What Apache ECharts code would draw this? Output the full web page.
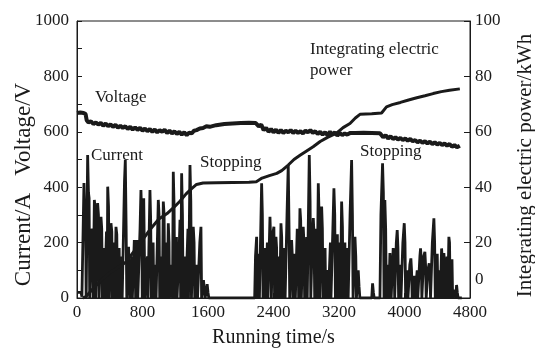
<!DOCTYPE html>
<html>
<head>
<meta charset="utf-8">
<script src="https://cdn.jsdelivr.net/npm/echarts@6/dist/echarts.min.js"></script>
<style>
html,body{margin:0;padding:0;background:#fff;}
#chart{width:535px;height:351px;}
</style>
</head>
<body>
<div id="chart"></div>
<script>
// Running time (s) / value pairs
var voltagePoints = [[0,668],[40,670],[80,668],[105,664],[118,642],[140,634],[170,638],[200,628],[230,634],[260,626],[290,632],[320,622],[350,630],[380,620],[410,627],[440,618],[470,625],[500,615],[530,622],[560,614],[590,620],[620,610],[650,618],[680,608],[710,616],[740,607],[770,614],[800,604],[830,612],[860,602],[890,610],[920,600],[950,608],[980,598],[1010,606],[1040,600],[1070,607],[1100,596],[1130,604],[1160,594],[1190,602],[1220,592],[1250,600],[1280,590],[1310,598],[1340,588],[1370,597],[1400,594],[1430,604],[1460,606],[1500,612],[1540,614],[1580,620],[1620,618],[1700,624],[1800,628],[1900,630],[2000,632],[2100,633],[2180,632],[2220,620],[2250,626],[2280,606],[2310,614],[2340,600],[2370,610],[2400,598],[2430,608],[2460,596],[2490,606],[2520,596],[2550,604],[2580,598],[2610,606],[2640,596],[2670,604],[2700,596],[2730,602],[2760,594],[2790,604],[2820,598],[2850,606],[2880,596],[2910,602],[2940,592],[2970,600],[3000,590],[3030,598],[3060,588],[3090,600],[3120,590],[3150,598],[3180,586],[3210,596],[3240,588],[3270,594],[3300,590],[3340,596],[3400,596],[3500,597],[3600,596],[3700,595],[3740,580],[3770,588],[3800,576],[3830,584],[3860,574],[3890,580],[3920,572],[3950,578],[3980,570],[4010,576],[4040,568],[4070,574],[4100,566],[4130,570],[4160,562],[4190,568],[4220,560],[4250,566],[4280,558],[4310,564],[4340,556],[4370,562],[4400,554],[4430,560],[4460,552],[4490,558],[4520,550],[4550,556],[4580,546],[4610,552],[4640,544],[4676,550]];

var currentPoints = [[0,20],[50,20],[60,5],[75,0],[85,415],[95,300],[105,280],[112,0],[122,0],[130,516],[140,380],[148,360],[155,0],[170,0],[180,250],[190,240],[197,0],[205,0],[212,354],[222,320],[230,0],[240,0],[252,343],[262,300],[270,0],[282,0],[293,293],[302,250],[310,0],[320,0],[330,180],[338,0],[350,0],[360,240],[368,0],[375,402],[385,330],[395,0],[405,0],[415,270],[425,240],[432,0],[445,0],[455,200],[462,0],[470,0],[476,257],[486,230],[494,0],[505,0],[515,180],[522,0],[535,0],[545,150],[552,0],[570,0],[580,420],[590,498],[600,260],[608,0],[620,0],[630,185],[639,185],[645,0],[660,0],[670,150],[676,0],[690,0],[700,209],[710,160],[716,0],[725,0],[733,209],[742,0],[760,0],[770,250],[781,390],[790,300],[797,0],[805,0],[815,360],[822,354],[830,0],[850,0],[860,150],[867,0],[880,0],[891,390],[900,280],[908,0],[920,0],[930,200],[937,0],[950,0],[960,120],[966,0],[980,0],[993,354],[1002,300],[1010,0],[1025,0],[1035,150],[1042,0],[1050,0],[1054,348],[1064,300],[1072,0],[1085,0],[1095,200],[1102,0],[1108,0],[1115,270],[1124,200],[1130,0],[1145,0],[1160,120],[1166,0],[1170,0],[1176,456],[1186,330],[1194,0],[1205,0],[1215,220],[1222,0],[1240,0],[1250,200],[1258,282],[1266,0],[1272,0],[1278,450],[1288,300],[1296,0],[1310,0],[1320,150],[1328,0],[1345,0],[1355,250],[1362,0],[1372,0],[1380,480],[1390,350],[1398,0],[1410,0],[1420,257],[1430,200],[1438,0],[1455,0],[1465,120],[1472,0],[1490,0],[1500,200],[1514,257],[1522,0],[1535,0],[1545,65],[1555,30],[1565,0],[1580,0],[1590,50],[1600,20],[1610,0],[2170,0],[2180,150],[2194,221],[2202,0],[2210,0],[2220,160],[2228,0],[2245,0],[2255,414],[2264,300],[2272,0],[2285,0],[2295,180],[2302,0],[2315,0],[2325,200],[2332,0],[2345,0],[2357,293],[2366,200],[2374,0],[2380,0],[2390,230],[2405,257],[2413,0],[2420,0],[2430,221],[2438,180],[2445,0],[2460,0],[2470,150],[2477,0],[2485,0],[2491,270],[2500,220],[2508,0],[2525,0],[2535,180],[2542,0],[2555,0],[2565,300],[2580,480],[2590,250],[2598,0],[2610,0],[2621,209],[2630,150],[2637,0],[2650,0],[2660,160],[2667,0],[2680,0],[2690,250],[2700,200],[2707,0],[2715,0],[2723,324],[2732,280],[2740,0],[2750,0],[2763,257],[2772,200],[2780,0],[2795,0],[2805,220],[2812,0],[2825,0],[2837,516],[2847,350],[2855,0],[2865,0],[2875,220],[2886,289],[2895,230],[2903,0],[2915,0],[2925,250],[2932,0],[2940,0],[2947,414],[2957,300],[2965,0],[2975,0],[2988,330],[2997,250],[3005,0],[3020,0],[3030,180],[3037,0],[3050,0],[3057,101],[3064,60],[3070,0],[3085,0],[3095,200],[3102,0],[3115,0],[3125,250],[3138,396],[3148,300],[3156,0],[3170,0],[3180,230],[3187,0],[3200,0],[3210,200],[3217,0],[3225,0],[3232,348],[3242,257],[3250,0],[3262,0],[3272,200],[3280,0],[3295,0],[3305,180],[3312,0],[3325,0],[3335,300],[3354,498],[3364,300],[3372,0],[3380,0],[3395,221],[3405,150],[3413,0],[3425,0],[3435,100],[3445,41],[3455,0],[3600,0],[3610,53],[3620,20],[3630,0],[3700,0],[3712,300],[3732,486],[3742,380],[3750,0],[3755,0],[3760,354],[3770,250],[3778,0],[3790,0],[3800,120],[3807,0],[3815,0],[3822,162],[3830,120],[3837,0],[3850,0],[3862,180],[3872,150],[3880,0],[3890,0],[3900,200],[3911,245],[3920,180],[3928,0],[3940,0],[3950,120],[3957,0],[3970,0],[3980,200],[3997,270],[4006,200],[4014,0],[4025,0],[4035,100],[4042,0],[4055,0],[4065,120],[4078,143],[4086,100],[4094,0],[4110,0],[4120,80],[4127,0],[4145,0],[4155,100],[4162,0],[4180,0],[4188,150],[4196,179],[4204,140],[4212,0],[4225,0],[4235,150],[4249,167],[4257,120],[4265,0],[4275,0],[4285,100],[4302,125],[4310,90],[4318,0],[4330,0],[4340,200],[4359,288],[4368,200],[4376,0],[4385,0],[4393,140],[4400,160],[4408,0],[4420,0],[4430,100],[4437,0],[4445,0],[4453,179],[4462,130],[4470,0],[4475,0],[4481,162],[4490,120],[4497,0],[4510,0],[4520,150],[4528,0],[4535,0],[4542,221],[4550,200],[4558,0],[4570,0],[4580,140],[4588,0],[4605,0],[4615,30],[4625,0],[4636,47],[4645,20],[4655,0],[4700,0]];

var powerPoints = [[70,0],[110,0.5],[200,3.5],[300,6.5],[395,9],[500,11],[600,13],[700,17],[800,21],[900,25],[1000,28.5],[1100,30.5],[1176,32.5],[1260,35],[1330,37.5],[1400,39.5],[1460,41],[1540,41.5],[1700,41.6],[1900,41.7],[2100,41.8],[2190,42],[2260,43.3],[2350,44.2],[2440,45],[2500,46],[2580,48],[2650,50],[2724,51.5],[2800,53],[2884,54.6],[2970,56.5],[3060,58],[3170,59.5],[3250,61.5],[3334,63],[3400,65],[3456,66.3],[3600,66.5],[3720,66.8],[3780,69],[3850,69.8],[3950,70.6],[4050,71.5],[4150,72.3],[4250,73],[4350,73.8],[4450,74.5],[4550,75],[4676,75.5]];

var xAxisTitle = 'Running time/s';
var leftAxisTitle = 'Current/A   Voltage/V';
var rightAxisTitle = 'Integrating electric power/kWh';
var annotations = ['Voltage', 'Current', 'Stopping', 'Stopping', 'Integrating electric\npower'];

var FONT = '"Liberation Serif", "Times New Roman", serif';
var INK = '#1a1a1a';

var chart = echarts.init(document.getElementById('chart'), null, {renderer: 'canvas'});

function annot(text, left, top) {
  return {
    type: 'text', left: left, top: top, z: 100,
    style: {text: text, fontFamily: FONT, fontSize: 17, fill: INK, lineHeight: 21}
  };
}
function plain(v) { return String(v); }

chart.setOption({
  animation: false,
  backgroundColor: '#fff',
  grid: {left: 77, right: 65, top: 21, bottom: 53, outerBoundsMode: 'none', containLabel: false,
         show: true, borderColor: INK, borderWidth: 1, backgroundColor: 'transparent'},
  xAxis: {
    type: 'value', min: 0, max: 4800, interval: 800,
    name: xAxisTitle, nameLocation: 'middle', nameGap: 30, nameMoveOverlap: false,
    nameTextStyle: {fontFamily: FONT, fontSize: 20, color: INK},
    axisLine: {show: true, lineStyle: {color: INK, width: 1}},
    axisTick: {show: true, inside: true, length: 5, lineStyle: {color: INK}},
    axisLabel: {fontFamily: FONT, fontSize: 17, color: INK, margin: 6, formatter: plain},
    splitLine: {show: false}
  },
  yAxis: [{
    type: 'value', min: 0, max: 1000, interval: 200, position: 'left',
    name: leftAxisTitle, nameLocation: 'middle', nameGap: 42, nameRotate: 90, nameMoveOverlap: false,
    nameTextStyle: {fontFamily: FONT, fontSize: 23, color: INK, padding: [0, 50, 0, 0]},
    axisLine: {show: true, lineStyle: {color: INK, width: 1}},
    axisTick: {show: true, inside: true, length: 5, lineStyle: {color: INK}},
    minorTick: {show: true, splitNumber: 2, length: 5, lineStyle: {color: INK}},
    axisLabel: {fontFamily: FONT, fontSize: 17, color: INK, margin: 8, formatter: plain},
    splitLine: {show: false}
  }, {
    type: 'value', min: 0, max: 100, interval: 20, position: 'right',
    name: rightAxisTitle, nameLocation: 'middle', nameGap: 45, nameRotate: 90, nameMoveOverlap: false,
    nameTextStyle: {fontFamily: FONT, fontSize: 21, color: INK, padding: [0, 12, 0, 0]},
    axisLine: {show: true, lineStyle: {color: INK, width: 1}},
    axisTick: {show: true, inside: true, length: 6, lineStyle: {color: INK}},
    axisLabel: {
      fontFamily: FONT, fontSize: 17, color: INK, margin: 5,
      formatter: function (v) { return v === 0 ? '{z|0}' : String(v); },
      rich: {z: {fontFamily: FONT, fontSize: 17, color: INK, padding: [0, 0, 36, 0]}}
    },
    splitLine: {show: false}
  }],
  series: [{
    name: 'Voltage', type: 'line', yAxisIndex: 0, data: voltagePoints,
    showSymbol: false, lineStyle: {color: INK, width: 4}, z: 3
  }, {
    name: 'Current', type: 'line', yAxisIndex: 0, data: currentPoints,
    showSymbol: false, lineStyle: {color: INK, width: 2.8}, z: 2
  }, {
    name: 'Integrating electric power', type: 'line', yAxisIndex: 1, data: powerPoints,
    showSymbol: false, lineStyle: {color: INK, width: 3}, z: 4
  }],
  graphic: [
    annot(annotations[0], 95, 87),
    annot(annotations[1], 91, 145),
    annot(annotations[2], 200, 152),
    annot(annotations[3], 360, 141),
    annot(annotations[4], 310, 39)
  ]
});
</script>
</body>
</html>
